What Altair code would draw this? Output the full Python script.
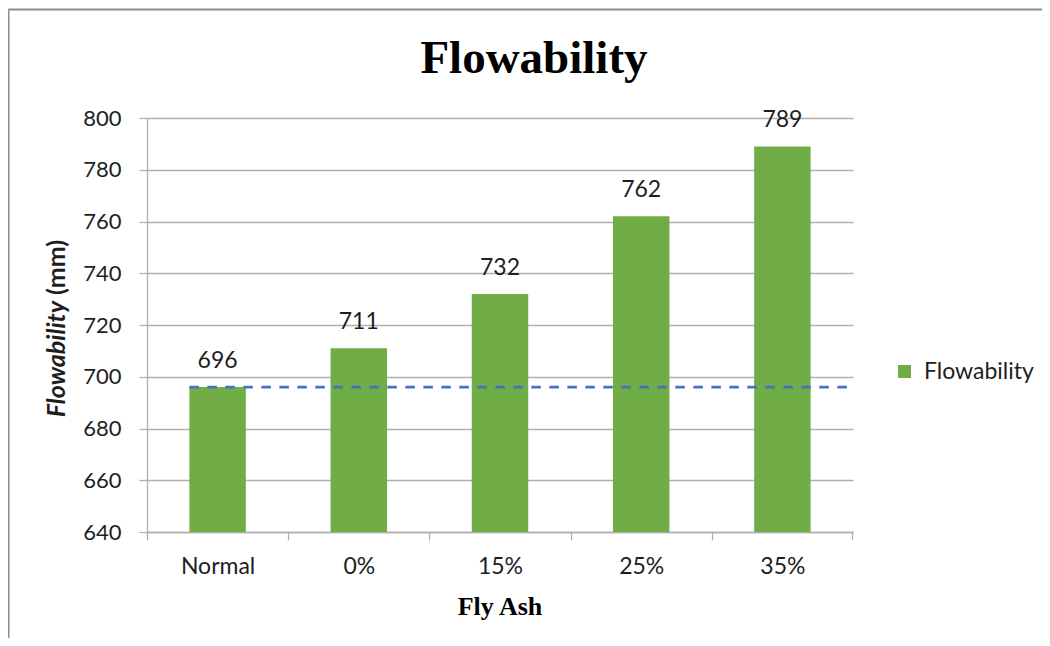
import altair as alt
import pandas as pd

# ---- data ----
categories = ["Normal", "0%", "15%", "25%", "35%"]
values = [696, 711, 732, 762, 789]
series_name = "Flowability"
reference_value = 696
y_min, y_max = 640, 800
y_ticks = [640, 660, 680, 700, 720, 740, 760, 780, 800]

chart_title = "Flowability"
x_title = "Fly Ash"
y_title_italic = "Flowability"
y_title_rest = "(mm)"

# ---- layout / style ----
W, H = 706, 414
PAD_L, PAD_T = 139, 110
TOTAL_W, TOTAL_H = 1034, 630
P_INNER, P_OUTER = 0.6, 0.3
STEP = W / len(categories)
HALF_GAP = P_INNER * STEP / 2
FONT = "Lato"
SERIF = "Liberation Serif"
GRAY = "#b0b0b0"
TXT = "#1e1e1e"
GREEN = "#70AD47"
BLUE = "#4472C4"

df = pd.DataFrame({"cat": categories, "v": values, "series": [series_name] * len(values)})
ref_df = pd.DataFrame({"cat": [categories[0]], "v": [reference_value]})

x_enc = alt.X(
    "cat:N",
    sort=categories,
    scale=alt.Scale(paddingInner=P_INNER, paddingOuter=P_OUTER),
    axis=alt.Axis(
        title=None,
        labelFont=FONT,
        labelFontSize=23,
        labelColor=TXT,
        labelAngle=0,
        labelPadding=15,
        bandPosition=0,
        tickOffset=-HALF_GAP,
        labelOffset=HALF_GAP,
        tickSize=8,
        tickColor=GRAY,
        tickWidth=1.3,
        domainColor=GRAY,
        domainWidth=1.3,
        grid=False,
    ),
)
y_enc = alt.Y(
    "v:Q",
    scale=alt.Scale(domain=[y_min, y_max], nice=False, zero=False),
    axis=alt.Axis(
        title=None,
        values=y_ticks,
        grid=True,
        gridColor=GRAY,
        gridWidth=1.3,
        tickSize=8,
        tickColor=GRAY,
        tickWidth=1.3,
        domainColor=GRAY,
        domainWidth=1.3,
        labelFont=FONT,
        labelFontSize=22,
        labelColor=TXT,
        labelPadding=18,
    ),
)

bars = alt.Chart(df).mark_bar().encode(
    x=x_enc,
    y=y_enc,
    y2=alt.Y2(datum=y_min),
    color=alt.Color(
        "series:N",
        scale=alt.Scale(domain=[series_name], range=[GREEN]),
        legend=alt.Legend(
            title=None,
            orient="none",
            legendX=746,
            legendY=242,
            symbolType="square",
            symbolSize=169,
            symbolStrokeWidth=0,
            labelFont=FONT,
            labelFontSize=23,
            labelColor=TXT,
            labelOffset=8,
        ),
    ),
)

labels = alt.Chart(df).mark_text(
    dy=-19, baseline="alphabetic", font=FONT, fontSize=23, color=TXT
).encode(x=alt.X("cat:N", sort=categories), y="v:Q", text="v:Q")

ref_line = alt.Chart(ref_df).mark_rule(
    color=BLUE, strokeWidth=2.6, strokeDash=[9.5, 8.5]
).encode(
    x=alt.X("cat:N", sort=categories, bandPosition=0),
    x2=alt.value(W),
    y="v:Q",
)

# closing tick at the right end of the category axis
end_tick = alt.Chart(pd.DataFrame({"k": [0]})).mark_rule(color=GRAY, strokeWidth=1.3).encode(
    x=alt.value(W - 0.5), y=alt.value(H), y2=alt.value(H + 8)
)

title_mark = alt.Chart(pd.DataFrame({"t": [chart_title]})).mark_text(
    font=SERIF, fontSize=47, fontWeight="bold", color="black",
    align="center", baseline="alphabetic",
).encode(x=alt.value(387), y=alt.value(-45), text="t:N")

x_title_mark = alt.Chart(pd.DataFrame({"t": [x_title]})).mark_text(
    font=SERIF, fontSize=26, fontWeight="bold", color="black",
    align="center", baseline="alphabetic",
).encode(x=alt.value(353), y=alt.value(497), text="t:N")

y_title_a = alt.Chart(pd.DataFrame({"t": [y_title_italic]})).mark_text(
    font=FONT, fontSize=25, fontWeight="bold", fontStyle="italic", color=TXT,
    align="right", baseline="alphabetic", angle=270,
).encode(x=alt.value(-82), y=alt.value(183), text="t:N")

y_title_b = alt.Chart(pd.DataFrame({"t": [y_title_rest]})).mark_text(
    font=FONT, fontSize=25, fontWeight="bold", color=TXT,
    align="left", baseline="alphabetic", angle=270,
).encode(x=alt.value(-82), y=alt.value(177), text="t:N")

border_top = alt.Chart(pd.DataFrame({"k": [0]})).mark_rule(color="#8c8c8c", strokeWidth=2).encode(
    x=alt.value(-138.5), x2=alt.value(TOTAL_W - PAD_L), y=alt.value(-108.5)
)
border_left = alt.Chart(pd.DataFrame({"k": [0]})).mark_rule(color="#8c8c8c", strokeWidth=2).encode(
    x=alt.value(-138.5), y=alt.value(-108.5), y2=alt.value(TOTAL_H - PAD_T)
)

chart = (
    alt.layer(bars, ref_line, labels, end_tick, title_mark, x_title_mark, y_title_a, y_title_b,
              border_top, border_left)
    .properties(
        width=W,
        height=H,
        autosize=alt.AutoSizeParams(type="none"),
        padding={"left": PAD_L, "top": PAD_T, "right": TOTAL_W - PAD_L - W, "bottom": TOTAL_H - PAD_T - H},
        background="white",
    )
    .configure_view(stroke=None)
)

chart.save("out.html", embed_options={"renderer": "svg", "actions": False})
